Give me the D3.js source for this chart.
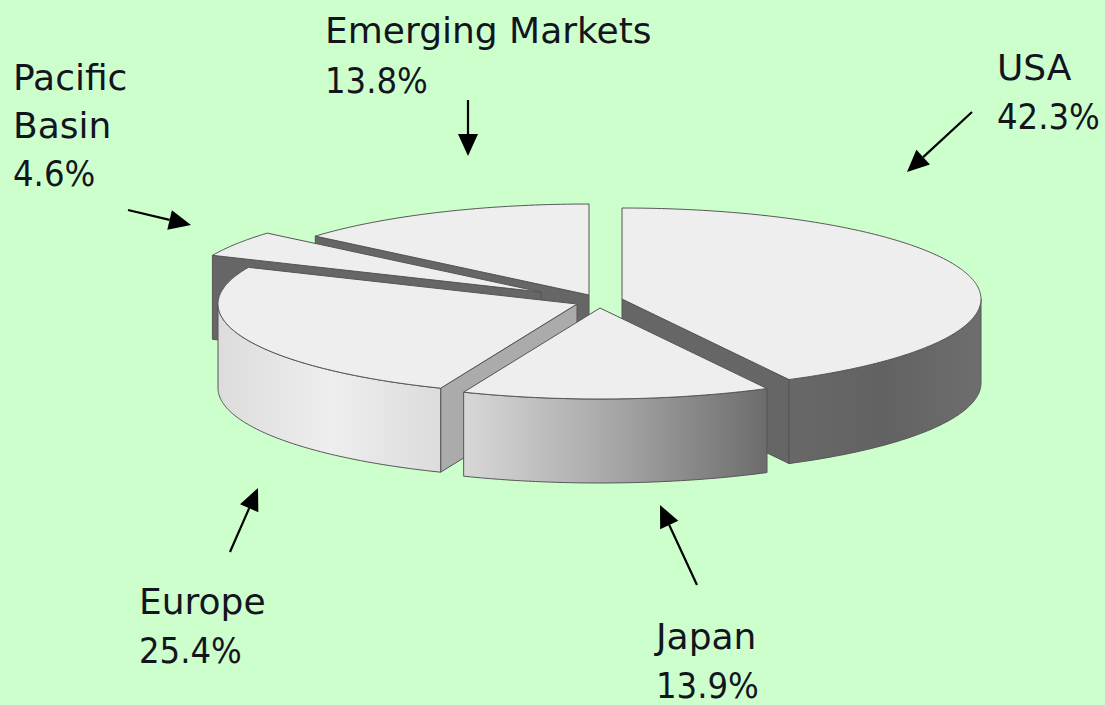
<!DOCTYPE html>
<html>
<head>
<meta charset="utf-8">
<script src="https://cdn.jsdelivr.net/npm/d3@7"></script>
<style>
  html, body { margin: 0; padding: 0; background: #ccffcc; }
  svg { display: block; }
  text { font-family: "DejaVu Sans", sans-serif; font-size: 36px; fill: #14141e; }
  text.value { font-family: "DejaVu Sans Condensed", "DejaVu Sans", sans-serif; }
</style>
</head>
<body>
<svg id="chart" width="1105" height="705"></svg>
<script>
// Regional allocation, clockwise from twelve o'clock
const regions = ["USA", "Japan", "Europe", "Pacific Basin", "Emerging Markets"];
const shares = [42.3, 13.9, 25.4, 4.6, 13.8];

// Geometry of the tilted, exploded disc
const radiusX = 359, radiusY = 91, depth = 84;
const explodedCentres = {
  "USA": [622, 299],
  "Japan": [600, 308],
  "Europe": [577, 304],
  "Pacific Basin": [541, 292],
  "Emerging Markets": [589, 295]
};
// Back slices are painted first so the nearer ones cover them
const paintOrder = ["Emerging Markets", "Pacific Basin", "USA", "Europe", "Japan"];
// Which straight cut of each slice faces the viewer, and its shade
const cutFaces = {
  "USA": { edge: "end", fill: "#666666" },
  "Europe": { edge: "start", fill: "#ababab" },
  "Pacific Basin": { edge: "start", fill: "#666666" },
  "Emerging Markets": { edge: "start", fill: "#666666" }
};
// Horizontal shading of the outer walls
const wallShades = {
  "USA": ["#686868", "#626262", "#6e6e6e"],
  "Japan": ["#d8d8d8", "#a6a6a6", "#6c6c6c"],
  "Europe": ["#dcdcdc", "#eeeeee", "#dcdcdc"]
};
const topFill = "#eeeeee", edgeStroke = "#555555";

// Label blocks: first-line anchor, line spacing, and the lines before the value
const labelBlocks = {
  "USA": { x: 997, y: 80, gap: 49, lines: ["USA"] },
  "Japan": { x: 656, y: 649, gap: 49, lines: ["Japan"] },
  "Europe": { x: 139, y: 614, gap: 49, lines: ["Europe"] },
  "Pacific Basin": { x: 13, y: 90, gap: 48, lines: ["Pacific", "Basin"] },
  "Emerging Markets": { x: 325, y: 43, gap: 50, lines: ["Emerging Markets"] }
};
// Pointers from each label towards its slice: [tail x, tail y, tip x, tip y]
const pointers = [
  [468, 100, 468, 156],
  [128, 210, 191, 225],
  [972, 112, 907, 172],
  [230, 552, 258, 488],
  [697, 585, 660, 505]
];

const svg = d3.select("#chart");
svg.append("rect").attr("width", 1105).attr("height", 705).attr("fill", "#ccffcc");
const defs = svg.append("defs");

const pie = d3.pie().sort(null).startAngle(0).endAngle(2 * Math.PI);
const arcs = new Map(pie(shares).map((d, i) => [regions[i], d]));

const line = d3.line();

paintOrder.forEach(name => {
  const arc = arcs.get(name);
  const [cx, cy] = explodedCentres[name];
  const sx = d3.scaleLinear().domain([-1, 1]).range([cx - radiusX, cx + radiusX]);
  const sy = d3.scaleLinear().domain([-1, 1]).range([cy + radiusY, cy - radiusY]);
  const rim = a => [sx(Math.sin(a)), sy(Math.cos(a))];
  const drop = p => [p[0], p[1] + depth];
  const sweep = (a0, a1) => {
    const n = Math.max(2, Math.ceil((a1 - a0) / 0.01));
    return d3.range(n + 1).map(i => rim(a0 + (a1 - a0) * i / n));
  };
  const g = svg.append("g").attr("class", "slice");
  const apex = [cx, cy];

  // Straight cut facing the viewer
  const cut = cutFaces[name];
  if (cut) {
    const p = rim(cut.edge === "start" ? arc.startAngle : arc.endAngle);
    g.append("path")
      .attr("d", line([p, apex, drop(apex), drop(p)]) + "Z")
      .attr("fill", cut.fill)
      .attr("stroke", edgeStroke)
      .attr("stroke-width", 1);
  }

  // Outer wall, only on the near half of the disc
  const a0 = Math.max(arc.startAngle, Math.PI / 2);
  const a1 = Math.min(arc.endAngle, 3 * Math.PI / 2);
  if (a1 > a0 && wallShades[name]) {
    const top = sweep(a0, a1);
    const xs = d3.extent(top, d => d[0]);
    const id = "wall-" + name.replace(/\s+/g, "-");
    const grad = defs.append("linearGradient").attr("id", id)
      .attr("gradientUnits", "userSpaceOnUse")
      .attr("x1", xs[0]).attr("x2", xs[1]).attr("y1", 0).attr("y2", 0);
    wallShades[name].forEach((c, i, all) => {
      grad.append("stop").attr("offset", i / (all.length - 1)).attr("stop-color", c);
    });
    g.append("path")
      .attr("d", line(top.concat(top.map(drop).reverse())) + "Z")
      .attr("fill", `url(#${id})`)
      .attr("stroke", edgeStroke)
      .attr("stroke-width", 1);
  }

  // Top surface
  g.append("path")
    .attr("d", line([apex].concat(sweep(arc.startAngle, arc.endAngle))) + "Z")
    .attr("fill", topFill)
    .attr("stroke", edgeStroke)
    .attr("stroke-width", 1);
});

// Pointers
const arrows = svg.append("g").attr("class", "pointers");
pointers.forEach(([x0, y0, x1, y1]) => {
  const a = Math.atan2(y1 - y0, x1 - x0);
  const headLen = 22, headHalf = 10;
  const bx = x1 - headLen * Math.cos(a), by = y1 - headLen * Math.sin(a);
  arrows.append("line")
    .attr("x1", x0).attr("y1", y0).attr("x2", bx).attr("y2", by)
    .attr("stroke", "#000").attr("stroke-width", 2.2);
  arrows.append("path")
    .attr("d", line([
      [x1, y1],
      [bx - headHalf * Math.sin(a), by + headHalf * Math.cos(a)],
      [bx + headHalf * Math.sin(a), by - headHalf * Math.cos(a)]
    ]) + "Z")
    .attr("fill", "#000");
});

// Labels with the share on the last line
const labels = svg.append("g").attr("class", "labels");
regions.forEach((name, i) => {
  const b = labelBlocks[name];
  b.lines.forEach((t, k) => {
    labels.append("text").attr("x", b.x).attr("y", b.y + k * b.gap).text(t);
  });
  labels.append("text").attr("class", "value")
    .attr("x", b.x).attr("y", b.y + b.lines.length * b.gap)
    .text(shares[i].toFixed(1) + "%");
});
</script>
</body>
</html>
